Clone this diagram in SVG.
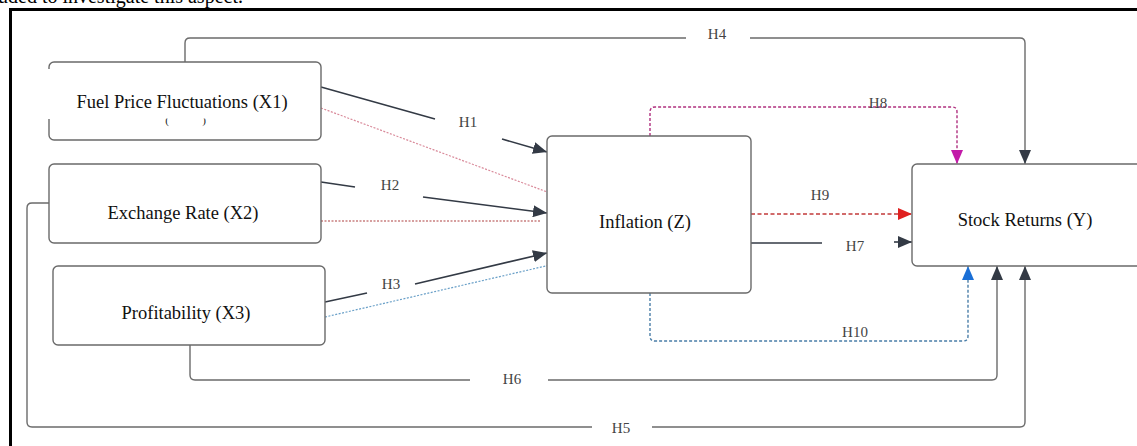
<svg xmlns="http://www.w3.org/2000/svg" width="1137" height="446" viewBox="0 0 1137 446">
<style>
.node{fill:#fff;stroke:#6a6a6a;stroke-width:1.4}
.nt{font-family:'Liberation Serif',serif;font-size:18.5px;fill:#111;text-anchor:middle}
.lb{font-family:'Liberation Serif',serif;font-size:15px;fill:#444;text-anchor:middle}
.c{fill:none;stroke:#6b6b6b;stroke-width:1.4}
.d{fill:none;stroke:#333a45;stroke-width:1.6}
</style>
<defs>
<marker id="ad" markerUnits="userSpaceOnUse" markerWidth="15" markerHeight="12" refX="14" refY="6" orient="auto"><path d="M0,0 L14,6 L0,12 z" fill="#333a45"/></marker>
<marker id="ar" markerUnits="userSpaceOnUse" markerWidth="15" markerHeight="12" refX="14" refY="6" orient="auto"><path d="M0,0 L14,6 L0,12 z" fill="#e0201f"/></marker>
<marker id="am" markerUnits="userSpaceOnUse" markerWidth="15" markerHeight="12" refX="14" refY="6" orient="auto"><path d="M0,0 L14,6 L0,12 z" fill="#c21aa8"/></marker>
<marker id="ab" markerUnits="userSpaceOnUse" markerWidth="15" markerHeight="12" refX="14" refY="6" orient="auto"><path d="M0,0 L14,6 L0,12 z" fill="#1a6fd6"/></marker>
<clipPath id="cl"><rect x="150" y="118.5" width="70" height="12"/></clipPath>
</defs>
<rect width="1137" height="446" fill="#fff"/>
<text x="-2" y="3" font-family="'Liberation Serif',serif" font-size="20" fill="#000">uded to investigate this aspect.</text>
<path d="M10.5,446 V9.5 H1137" fill="none" stroke="#000" stroke-width="3"/>

<g id="connectors">
<path class="c" d="M185,62 V43 Q185,38 190,38 H686"/>
<path class="c" d="M750,38 H1020 Q1025,38 1025,43 V164" marker-end="url(#ad)"/>
<path class="c" d="M190,345 V375 Q190,380 195,380 H470"/>
<path class="c" d="M548,380 H992 Q997,380 997,375 V266" marker-end="url(#ad)"/>
<path class="c" d="M49,203 H32 Q27,203 27,208 V422 Q27,427 32,427 H592"/>
<path class="c" d="M652,427 H1020 Q1025,427 1025,422 V266" marker-end="url(#ad)"/>
<path class="d" d="M321,87 L435,119"/>
<path class="d" d="M502,139 L547,152" marker-end="url(#ad)"/>
<path d="M321,108 L550,193" fill="none" stroke="#d98a9a" stroke-width="1.2" stroke-dasharray="2,1.5"/>
<path class="d" d="M321,182 L355,187"/>
<path class="d" d="M423,197 L547,213" marker-end="url(#ad)"/>
<path d="M321,221 H540" fill="none" stroke="#c98080" stroke-width="1.4" stroke-dasharray="2,1.5"/>
<path class="d" d="M325,302 L367,293"/>
<path class="d" d="M415,284 L547,253" marker-end="url(#ad)"/>
<path d="M325,317 L550,265" fill="none" stroke="#6aa0c8" stroke-width="1.2" stroke-dasharray="2,1.5"/>
<path d="M650,136 V112 Q650,107 655,107 H952 Q957,107 957,112 V164" fill="none" stroke="#b0307f" stroke-width="1.4" stroke-dasharray="3,2" marker-end="url(#am)"/>
<path d="M650,293 V336 Q650,341 655,341 H963 Q968,341 968,336 V266" fill="none" stroke="#4a7ea8" stroke-width="1.4" stroke-dasharray="3,2" marker-end="url(#ab)"/>
<path d="M751,214 H912" fill="none" stroke="#c23a3a" stroke-width="1.5" stroke-dasharray="4,2.5" marker-end="url(#ar)"/>
<path class="d" d="M751,243 H822"/>
<path class="d" d="M894,242 H912" marker-end="url(#ad)"/>
<rect x="864" y="96" width="28" height="10" fill="#fff"/>
<text class="lb" x="717" y="39">H4</text>
<text class="lb" x="468" y="127">H1</text>
<text class="lb" x="390" y="190">H2</text>
<text class="lb" x="391" y="289">H3</text>
<text class="lb" x="878" y="108">H8</text>
<text class="lb" x="820" y="200">H9</text>
<text class="lb" x="855" y="251">H7</text>
<text class="lb" x="855" y="337">H10</text>
<text class="lb" x="512" y="384">H6</text>
<text class="lb" x="621" y="433">H5</text>
</g>

<g id="x1">
<rect class="node" x="49" y="62" width="272" height="78" rx="5"/>
<rect x="46" y="69" width="272" height="50" fill="#fff"/>
<text class="nt" x="182" y="108">Fuel Price Fluctuations (X1)</text>
<g clip-path="url(#cl)" font-family="'Liberation Serif',serif" font-size="11" fill="#222" text-anchor="middle"><text x="167" y="124">(</text><text x="204" y="124">)</text></g>
</g>
<g id="x2">
<rect class="node" x="49" y="164" width="272" height="79" rx="5"/>
<text class="nt" x="183" y="219">Exchange Rate (X2)</text>
</g>
<g id="x3">
<rect class="node" x="53" y="266" width="272" height="79" rx="5"/>
<text class="nt" x="186" y="319">Profitability (X3)</text>
</g>
<g id="z">
<rect class="node" x="547" y="136" width="204" height="157" rx="5"/>
<text class="nt" x="645" y="228">Inflation (Z)</text>
</g>
<g id="y">
<rect class="node" x="912" y="164" width="230" height="102" rx="5"/>
<text class="nt" x="1025" y="226">Stock Returns (Y)</text>
</g>
</svg>
